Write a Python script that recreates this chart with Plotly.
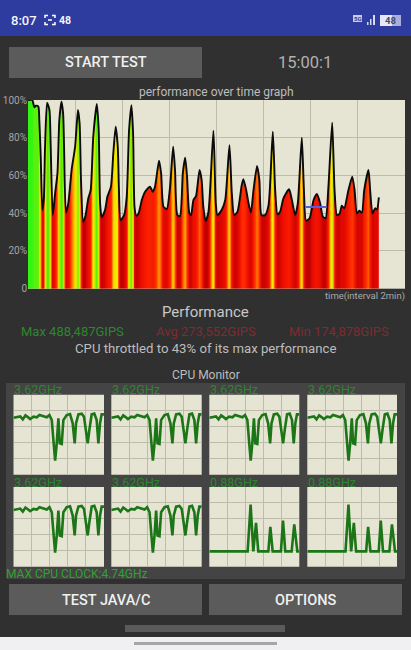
import numpy as np
import plotly.graph_objects as go

W, H = 411, 650

# ---- data ----
perf_minutes = [0,.18,.27,.34,.44,.48,.54,.61,.67,.72,.81,.91,.96,1.05,1.15,1.25,1.33,1.42,1.49,1.53,1.61,1.71,1.85,2.0,2.12,2.19,2.25,2.34,2.43,2.56,2.66,2.77,2.92,3.0,3.06,3.13,3.27,3.37,3.52,3.62,3.72,3.81,3.86,3.93,4.08,4.19,4.29,4.39,4.46,4.52,4.59,4.69,4.83,4.97,5.18,5.29,5.39,5.56,5.65,5.75,5.89,6.03,6.16,6.24,6.34,6.45,6.57,6.67,6.75,6.85,6.92,7.02,7.13,7.28,7.37,7.44,7.54,7.66,7.87,7.97,8.04,8.22,8.37,8.55,8.65,8.75,8.89,9.07,9.14,9.26,9.36,9.46,9.57,9.72,9.82,9.91,10.06,10.21,10.39,10.49,10.59,10.70,10.84,11.08,11.2,11.34,11.45,11.62,11.71,11.8,11.95,12.12,12.26,12.4,12.51,12.63,12.75,12.91,13.01,13.11,13.22,13.32,13.42,13.6,13.76,13.86,13.96,14.06,14.17,14.27,14.45,14.52,14.62,14.73,14.81,14.89]
perf_percent = [100,100,96.1,97,96.5,89.4,70,41.7,47,73.5,98.6,94.7,77,39,50.5,61.1,89.4,99.1,92.9,75.3,40.3,45.2,62.9,75.3,94.7,87.6,57.6,35.5,38.2,47.9,52.3,80.6,97.9,84.1,45.2,37.8,41.7,48.8,54.1,71.7,85.9,75.3,52.3,36.4,39,48.8,84.1,97.3,82.3,43.5,38.7,39.9,47,51.4,54.1,51.4,54.1,67.8,61.1,43.5,42.2,54.1,75.3,62.9,39,38.5,61.1,69.4,59.4,39.9,39,47,49.1,62.9,57.6,43.5,35.9,40.8,83.7,45.2,39,41.7,47,76.1,50.5,39,40.8,54.9,58,52.3,45.2,40.3,52.3,65,57.6,39,39,44.3,83.2,52.3,39.4,40.8,47.9,52.7,47,39,45.2,80,52.3,36,37.3,47,50.2,45.2,38.2,37.3,54.1,88,52.3,39,39.6,44,42.6,52.3,59.4,52.3,39.9,41.3,40.3,52.3,62.9,52.3,39.9,42.6,42,48.4]
throttle_minutes = [11.78, 12.68]
throttle_percent = [43.3, 43.3]
y_tick_values = [0, 20, 40, 60, 80, 100]
y_tick_labels = ["0", "20%", "40%", "60%", "80%", "100%"]
x_tick_values = [2, 4, 6, 8, 10, 12, 14]

big_core_x = [0,3.7,7.4,10.3,13.2,16.2,18.4,22.1,25.7,28.7,33.1,36.8,39.7,42.3,44.1,46,47.8,49.6,51.1,53.3,55.1,58.8,62.5,65.4,67.6,69.1,71.7,75.4,77.9,80.1,82,83.8,86.4,89.3,91.9,93.8,95.6,97.4,100]
big_core_y = [71.2,72.5,72.9,69.2,74.2,71.7,69.6,72.5,71.7,74.6,72.5,71.7,74.6,68.3,43.3,17.5,39.2,70.4,39.2,38.3,68.3,74.6,75.8,64.2,39.2,64.2,75.4,76.3,72.5,51.7,39.2,55.8,75.4,76.3,68.3,39.2,64.2,75.4,75.4]
little_core_x = [0,42.6,45.9,48.9,51.9,54.4,65.6,67.8,70.4,79.6,81.9,84.4,91.5,94.4,97.8,100]
little_core_y = [19.2,19.2,78,19.2,55,19.2,19.2,50,19.2,19.2,57.7,19.2,19.2,53,19.2,19.2]
core_labels = ["3.62GHz"]*6 + ["0.88GHz"]*2

# ---- colours ----
PAGE = "#303030"; PANEL = "#444444"; BTN = "#5b5b5b"; PLOT_BG = "#e6e4d3"; GRID = "#bdbcab"
LIGHT = "#bdbdbd"; GREEN = "#2e862e"; DIM_RED = "#7f2c30"

heat_levels = [0, 36, 42, 50, 58, 65, 72, 80, 88, 95, 100]
heat_rgb = np.array([[180,0,0],[185,0,0],[222,8,0],[245,20,0],[255,50,0],[255,125,0],[255,200,0],
                     [250,235,0],[200,240,0],[110,240,10],[50,245,20]], float)

def heat(v):
    return "rgb(%d,%d,%d)" % tuple(np.interp(v, heat_levels, heat_rgb[:, i]) for i in range(3))

# gradient stops along x: colour follows the height of the curve
tmax = perf_minutes[-1]
gradient_t = np.linspace(0, tmax, 400)
gradient_v = np.interp(gradient_t, perf_minutes, perf_percent)
gradient = [[float(t / tmax), heat(v)] for t, v in zip(gradient_t, gradient_v)]

def px(x): return x / W
def py(y): return 1 - y / H

shapes = []
def rect(x0, y0, x1, y1, color):
    shapes.append(dict(type="rect", xref="paper", yref="paper", x0=px(x0), x1=px(x1), y0=py(y0), y1=py(y1),
                       fillcolor=color, line=dict(width=0), layer="below"))

annotations = []
def text(x, y, s, size, color, anchor="center", weight=None, family="Roboto"):
    f = dict(size=size, color=color, family=family)
    if weight: f["weight"] = weight
    annotations.append(dict(xref="paper", yref="paper", x=px(x), y=py(y), text=s, showarrow=False,
                            xanchor=anchor, yanchor="middle", font=f, borderpad=0, borderwidth=0))

# chrome
rect(0, 0, 411, 36, "#2e3b9f")
rect(0, 637, 411, 650, "#f0f0f2")
rect(134, 642, 277, 645, "#a6a6a8")
rect(125, 625, 285, 632, "#5a5a5a")
rect(9, 47, 202, 78, BTN)
rect(9, 584, 202, 615, BTN)
rect(209, 584, 402, 615, BTN)
rect(6, 383, 405, 579, PANEL)

# status bar icons
for x0, x1, h in [(367, 368.5, 3), (370, 371.5, 6), (373, 375, 10)]:
    rect(x0, 25 - h, x1, 25, "#d8daf0")
rect(380, 15, 394, 26, "#e8e8f4")
rect(392, 15, 401, 26, "#a9aed8")
rect(353, 15, 362, 22, "#c9cce8")
shapes.append(dict(type="path", xref="paper", yref="paper", layer="above",
                   path=" ".join(f"{c} {px(a):.4f},{py(b):.4f}" for c, a, b in [
                       ("M",45,18),("L",45,15.5),("L",48,15.5),("M",52,15.5),("L",55,15.5),("L",55,18),
                       ("M",55,22),("L",55,24.5),("L",52,24.5),("M",48,24.5),("L",45,24.5),("L",45,22),
                       ("M",48,20),("L",52,20)]),
                   line=dict(color="#ffffff", width=1.5)))

text(11, 20.5, "8:07", 13, "#f4f4fa", "left", 500)
text(59, 20.5, "48", 10.5, "#f4f4fa", "left", 700)
text(357.5, 18.5, "5G", 6, "#2e3b9f", "center", 700)
text(390, 20.5, "48", 9.5, "#444a70", "center", 700)

text(105.5, 63, "START TEST", 14.5, "#f0f0f0", "center", 500)
text(305, 63, "15:00:1", 16.5, "#b0b0b0")
text(216.5, 92, "performance over time graph", 12, LIGHT)
text(405, 296, "time(interval 2min)", 9.5, "#aaaaaa", "right")
text(205.5, 312, "Performance", 15, "#c8c8c8")
text(21, 331, "Max 488,487GIPS", 13, GREEN, "left")
text(156, 331, "Avg 273,552GIPS", 13, DIM_RED, "left")
text(289, 331, "Min 174,878GIPS", 13, DIM_RED, "left")
text(205.5, 348.5, "CPU throttled to 43% of its max performance", 13.2, LIGHT)
text(205.5, 375, "CPU Monitor", 12, LIGHT)
text(6, 573.5, "MAX CPU CLOCK:4.74GHz", 12, "#2fa32f", "left")
text(105.5, 600, "TEST JAVA/C", 14.5, "#f0f0f0", "center", 500)
text(305.5, 600, "OPTIONS", 14.5, "#f0f0f0", "center", 500)

fig = go.Figure()

layout_axes = {}
layout_axes["xaxis"] = dict(domain=[px(28), px(405)], range=[0, 16], tickvals=x_tick_values, showticklabels=False,
                            showgrid=True, gridcolor=GRID, gridwidth=1, zeroline=False, showline=False, ticks="")
layout_axes["yaxis"] = dict(domain=[py(288.7), py(100)], range=[0, 100], tickvals=y_tick_values, ticktext=y_tick_labels,
                            showgrid=True, gridcolor=GRID, gridwidth=1, zeroline=False, showline=False, ticks="",
                            tickfont=dict(size=10, color="#a4a4a4", family="Roboto"), anchor="x")

fig.add_trace(go.Scatter(x=perf_minutes, y=perf_percent, mode="lines", xaxis="x", yaxis="y",
                         line=dict(color="#0b0b0b", width=1.9, shape="spline", smoothing=0.6),
                         fill="tozeroy", fillgradient=dict(type="horizontal", colorscale=gradient),
                         hoverinfo="skip"))
fig.add_trace(go.Scatter(x=throttle_minutes, y=throttle_percent, mode="lines", xaxis="x", yaxis="y",
                         line=dict(color="#5a5ce0", width=2.2), hoverinfo="skip"))

# CPU monitor panels
col_px = [(13.5, 104), (111.3, 201.7), (209.3, 299.3), (307.3, 397)]
row_px = [(394.7, 474.7), (487, 566.7)]
for i, label in enumerate(core_labels):
    r, c = divmod(i, 4)
    n = i + 2
    x0, x1 = col_px[c]; y0, y1 = row_px[r]
    rect(x0, y0, x1, y1, PLOT_BG)
    layout_axes[f"xaxis{n}"] = dict(domain=[px(x0), px(x1)], range=[0, 100], dtick=20, showticklabels=False,
                                    showgrid=True, gridcolor=GRID, gridwidth=1, zeroline=False, showline=False,
                                    ticks="", anchor=f"y{n}")
    layout_axes[f"yaxis{n}"] = dict(domain=[py(y1), py(y0)], range=[0, 100], dtick=20, showticklabels=False,
                                    showgrid=True, gridcolor=GRID, gridwidth=1, zeroline=False, showline=False,
                                    ticks="", anchor=f"x{n}")
    xs, ys = (big_core_x, big_core_y) if i < 6 else (little_core_x, little_core_y)
    fig.add_trace(go.Scatter(x=xs, y=ys, mode="lines", xaxis=f"x{n}", yaxis=f"y{n}",
                             line=dict(color="#1c7517", width=2.6), hoverinfo="skip"))
    text(x0 + 0.5, y0 - 5, label, 12.5, GREEN, "left")

fig.update_layout(width=W, height=H, margin=dict(l=0, r=0, t=0, b=0, autoexpand=False), autosize=False,
                  paper_bgcolor=PAGE, plot_bgcolor=PLOT_BG, showlegend=False,
                  font=dict(family="Roboto"), shapes=shapes, annotations=annotations, **layout_axes)

fig.write_html("out.html", config=dict(displayModeBar=False),
               post_script="document.body.style.margin='0';document.documentElement.style.background='%s';" % PAGE)
